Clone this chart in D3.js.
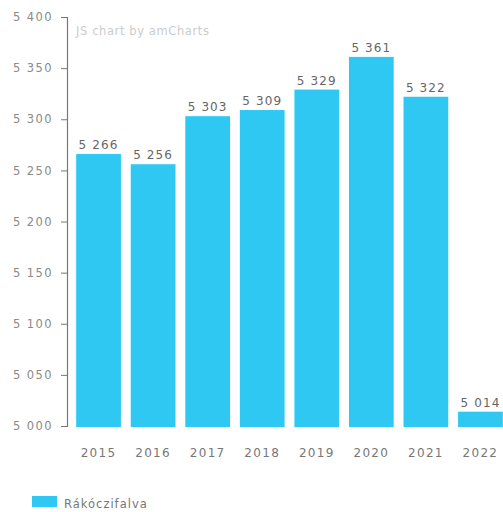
<!DOCTYPE html>
<html><head><meta charset="utf-8">
<script src="https://cdn.jsdelivr.net/npm/d3@7"></script>
<style>body{margin:0;background:#fff}svg{display:block}text{font-family:"DejaVu Sans",sans-serif}</style>
</head><body><svg id="c" width="503" height="512"></svg>
<script>
const years = ["2015","2016","2017","2018","2019","2020","2021","2022"];
const values = [5266,5256,5303,5309,5329,5361,5322,5014];
const yTicks = [5000,5050,5100,5150,5200,5250,5300,5350,5400];
const seriesName = "Rákóczifalva";

const svg = d3.select("#c");
const fmt = v => d3.format(",")(v).replace(/,/g," ");
const y = d3.scaleLinear().domain([5000,5400]).range([426,17]);
const x = d3.scaleBand().domain(years).range([68,511]).paddingInner(0.18).paddingOuter(0.15);
const color = "#2fc8f3";

svg.append("text").attr("x",76).attr("y",35).attr("fill","#cccccc").attr("font-size",11.5).attr("letter-spacing",0.6)
  .text("JS chart by amCharts");

const ya = svg.append("g").attr("transform","translate(67,0)")
  .call(d3.axisLeft(y).tickValues(yTicks).tickSize(6).tickFormat(fmt));
ya.select(".domain").attr("stroke","#777").attr("stroke-width",1.2);
ya.selectAll(".tick line").attr("stroke","#777");
ya.selectAll(".tick text").attr("fill","#8a8a8a").attr("font-size",11.5).attr("x",-14).attr("letter-spacing",1.4);

svg.append("g").selectAll("rect").data(values).join("rect")
  .attr("x",(d,i)=>x(years[i])).attr("width",x.bandwidth())
  .attr("y",d=>y(d)).attr("height",d=>y(5000)-y(d)+1).attr("fill",color);

svg.append("g").selectAll("text").data(values).join("text")
  .attr("x",(d,i)=>x(years[i])+x.bandwidth()/2).attr("y",d=>y(d)-5)
  .attr("text-anchor","middle").attr("fill","#666").attr("font-size",12).attr("letter-spacing",1.1)
  .text(fmt);

svg.append("g").selectAll("text").data(years).join("text")
  .attr("x",d=>x(d)+x.bandwidth()/2).attr("y",457)
  .attr("text-anchor","middle").attr("fill","#777").attr("font-size",12).attr("letter-spacing",1.3)
  .text(d=>d);

svg.append("rect").attr("x",32).attr("y",496).attr("width",25).attr("height",11).attr("fill",color);
svg.append("text").attr("x",64).attr("y",508).attr("fill","#777").attr("font-size",11.5).attr("letter-spacing",1).text(seriesName);
</script></body></html>
